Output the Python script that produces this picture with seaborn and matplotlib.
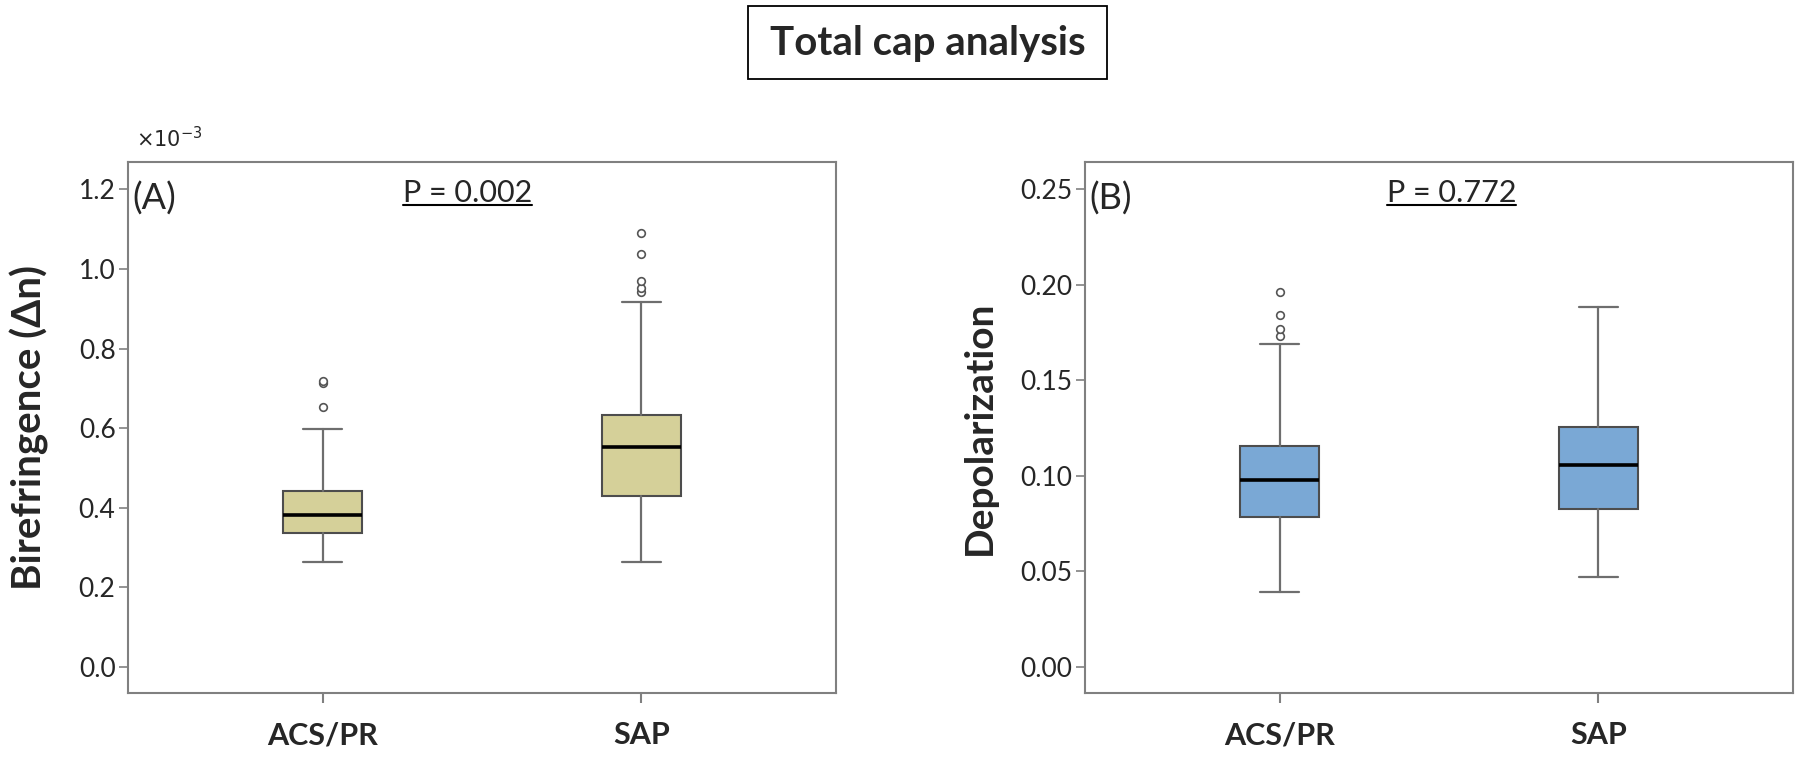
import matplotlib
matplotlib.use("Agg")
import matplotlib.pyplot as plt
from matplotlib.lines import Line2D
from matplotlib.patches import Rectangle
import seaborn as sns

# Datos (cuartiles, bigotes y atipicos)
groups = ["ACS/PR", "SAP"]

# Birrefringencia (x10^-3)
bire_lo = [0.263, 0.263]
bire_q1 = [0.336, 0.429]
bire_med = [0.382, 0.553]
bire_q3 = [0.443, 0.633]
bire_hi = [0.597, 0.918]
bire_out = [[0.654, 0.713, 0.718], [0.943, 0.952, 0.971, 1.038, 1.090]]
bire_ticks = [0.0, 0.2, 0.4, 0.6, 0.8, 1.0, 1.2]

# Depolarizacion
depo_lo = [0.0390, 0.0468]
depo_q1 = [0.0785, 0.0824]
depo_med = [0.0977, 0.1058]
depo_q3 = [0.1157, 0.1253]
depo_hi = [0.1688, 0.1883]
depo_out = [[0.1731, 0.1768, 0.1843, 0.1962], []]
depo_ticks = [0.00, 0.05, 0.10, 0.15, 0.20, 0.25]

p_values = ["P = 0.002", "P = 0.772"]

sns.set_theme(style="white")
plt.rcParams["font.family"] = ["Lato", "DejaVu Sans"]


def make_stats(lo, q1, med, q3, hi, out):
    stats = []
    for i, g in enumerate(groups):
        stats.append({"label": g, "whislo": lo[i], "q1": q1[i], "med": med[i],
                      "q3": q3[i], "whishi": hi[i], "fliers": out[i]})
    return stats


def draw_panel(ax, stats, color, ticks, fmt, ylim, ylabel, ysize, ylx, letter, ptext, px):
    ax.bxp(stats, positions=[0, 1], widths=0.25, capwidths=0.125,
           patch_artist=True, showfliers=True,
           boxprops=dict(facecolor=color, edgecolor="#4d4d4d", linewidth=1.5),
           medianprops=dict(color="black", linewidth=2.6),
           whiskerprops=dict(color="#6e6e6e", linewidth=1.6),
           capprops=dict(color="#6e6e6e", linewidth=1.6),
           flierprops=dict(marker="o", markersize=5.5, markerfacecolor="white",
                           markeredgecolor="#555555", markeredgewidth=1.2))
    ax.set_xlim(-0.61, 1.61)
    ax.set_ylim(*ylim)
    ax.set_yticks(ticks)
    ax.set_yticklabels([fmt.format(t) for t in ticks])
    ax.set_xticks([0, 1])
    ax.set_xticklabels(groups, fontsize=22, fontweight="bold")
    for s in ax.spines.values():
        s.set_color("#808080")
        s.set_linewidth(1.5)
    ax.tick_params(axis="y", left=True, length=6.5, width=1.2, color="#808080",
                   labelsize=19, pad=2.5)
    ax.tick_params(axis="x", bottom=True, length=7.2, width=1.5, color="#808080",
                   pad=13)
    ax.set_ylabel(ylabel, fontsize=ysize, fontweight="bold")
    ax.yaxis.set_label_coords(ylx, 0.5)
    ax.text(0.006, 0.932, letter, transform=ax.transAxes, fontsize=26,
            ha="left", va="center")
    t = ax.text(px, 0.942, ptext, transform=ax.transAxes, fontsize=22,
                ha="center", va="center")
    return t


fig = plt.figure(figsize=(18, 7.63), dpi=100)
ax1 = fig.add_axes([128 / 1800, 1 - 693 / 763, 708 / 1800, 531 / 763])
ax2 = fig.add_axes([1085 / 1800, 1 - 693 / 763, 708 / 1800, 531 / 763])

t1 = draw_panel(ax1, make_stats(bire_lo, bire_q1, bire_med, bire_q3, bire_hi, bire_out),
                "#D5D099", bire_ticks, "{:.1f}", (-0.066, 1.269),
                "Birefringence (\u0394n)", 29, -0.112, "(A)", p_values[0], 0.48)
t2 = draw_panel(ax2, make_stats(depo_lo, depo_q1, depo_med, depo_q3, depo_hi, depo_out),
                "#7AA8D5", depo_ticks, "{:.2f}", (-0.0138, 0.2642),
                "Depolarization", 28, -0.125, "(B)", p_values[1], 0.518)

# Factor de escala del eje A
fig.text(136 / 1800, 1 - 147 / 763, r"$\times$10$^{-3}$", fontsize=15,
         ha="left", va="baseline", family=["DejaVu Sans"])

# Titulo con recuadro
fig.patches.append(Rectangle((748 / 1800, 1 - 79 / 763), 359 / 1800, 73 / 763,
                             transform=fig.transFigure, facecolor="white",
                             edgecolor="black", linewidth=1.3))
fig.text(927.5 / 1800, 1 - 43 / 763, "Total cap analysis", fontsize=29,
         fontweight="bold", ha="center", va="center")

# Subrayado de los valores P
fig.canvas.draw()
r = fig.canvas.get_renderer()
for t in (t1, t2):
    bb = t.get_window_extent(r).transformed(fig.transFigure.inverted())
    yline = bb.y0 + 0.002
    fig.lines.append(Line2D([bb.x0, bb.x1], [yline, yline], transform=fig.transFigure,
                            color="black", linewidth=1.5))

fig.savefig("out.png", dpi=100)
